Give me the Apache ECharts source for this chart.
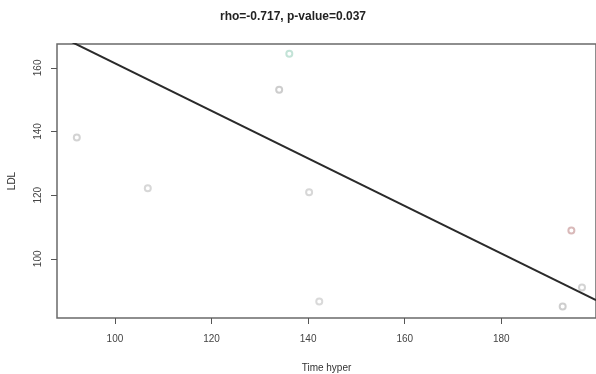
<!DOCTYPE html>
<html><head><meta charset="utf-8">
<script src="https://cdn.jsdelivr.net/npm/echarts@6/dist/echarts.min.js"></script>
<style>html,body{margin:0;padding:0;background:#fff}#c{width:596px;height:374px}</style>
</head><body><div id="c"></div>
<script>
const timeHyper = [92.1, 106.8, 136.1, 134.0, 140.2, 142.3, 194.5, 196.7, 192.7];
const ldl       = [138.1, 122.2, 164.4, 153.1, 120.9, 86.6, 108.9, 91.0, 85.0];
const pointColors = ['#c8c8c8','#cdcdcd','#b4dccd','#c0c0c0','#cdcdcd','#d0d0d0','#cfa8a8','#c8c8c8','#c2c2c2'];
const fitX = [88, 199.6];
const fitY = [170.4, 87.0];
const xTicks = [100, 120, 140, 160, 180];
const yTicks = [100, 120, 140, 160];
const title = 'rho=-0.717, p-value=0.037';

const chart = echarts.init(document.getElementById('c'));
const font = 'Liberation Sans, Arial, sans-serif';
chart.setOption({
  animation: false,
  title: {text: title, left: 288, top: 6, textAlign: 'center',
    textStyle: {fontFamily: font, fontSize: 12, fontWeight: 'bold', color: '#222'}},
  grid: {left: 57, right: 0, top: 44, bottom: 56, containLabel: false, outerBoundsMode: 'none',
    show: true, borderColor: '#6a6a6a', borderWidth: 1.5, backgroundColor: 'transparent'},
  xAxis: {type: 'value', min: 88, max: 199.6,
    name: 'Time hyper', nameLocation: 'middle', nameGap: 45,
    nameTextStyle: {fontFamily: font, fontSize: 10, color: '#333'},
    axisLine: {show: false}, splitLine: {show: false},
    axisTick: {show: true, length: 6, lineStyle: {color: '#555'}, customValues: xTicks},
    axisLabel: {fontFamily: font, fontSize: 10, color: '#444', margin: 16, customValues: xTicks}
  },
  yAxis: {type: 'value', min: 81.4, max: 167.5,
    name: 'LDL', nameLocation: 'middle', nameGap: 40, nameRotate: 90,
    nameTextStyle: {fontFamily: font, fontSize: 10, color: '#333'},
    axisLine: {show: false}, splitLine: {show: false},
    axisTick: {show: true, length: 6, lineStyle: {color: '#555'}, customValues: yTicks},
    axisLabel: {fontFamily: font, fontSize: 10, color: '#444', rotate: 90, margin: 14, customValues: yTicks}
  },
  series: [
    {type: 'scatter', symbol: 'emptyCircle', symbolSize: 6,
      data: timeHyper.map((x, i) => ({value: [x, ldl[i]], itemStyle: {color: pointColors[i], borderWidth: 1}})),
      z: 2},
    {type: 'line', data: fitX.map((x, i) => [x, fitY[i]]), symbol: 'none', clip: true,
      lineStyle: {color: '#2a2a2a', width: 2}, z: 3}
  ]
});
</script></body></html>
